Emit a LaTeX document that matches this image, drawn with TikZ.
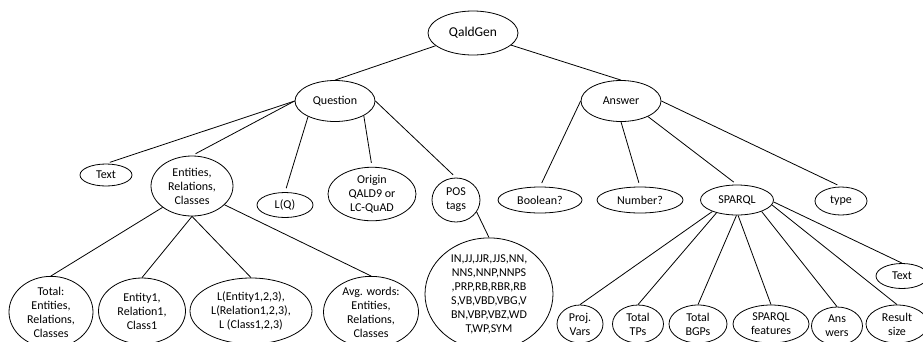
\documentclass[tikz,border=0pt]{standalone}
\usepackage{fontspec}
\setmainfont{Carlito}
\usetikzlibrary{shapes.geometric}
\tikzset{
  ell/.style={ellipse, draw, line width=0.8pt, inner sep=0pt, align=center,
    font=\fontsize{12}{14}\selectfont},
  link/.style={line width=0.8pt},
  gaplink/.style={line width=0.8pt, shorten >=4pt},
}
\begin{document}
\begin{tikzpicture}[x=1pt, y=-1pt]
\useasboundingbox (0,0) rectangle (923,341);
\clip (0,0) rectangle (923,341);
% root level
\node[ell, minimum width=90, minimum height=44, font=\fontsize{13.5}{16}\selectfont] (qg) at (473,33) {QaldGen};
\node[ell, minimum width=80, minimum height=41] (q) at (335,101) {Question};
\node[ell, minimum width=80, minimum height=41] (a) at (621,101) {Answer};
% question children
\node[ell, minimum width=52, minimum height=22] (t1) at (106,175) {Text};
\node[ell, minimum width=82, minimum height=60] (erc) at (192,186) {Entities,\\Relations,\\Classes};
\node[ell, minimum width=56, minimum height=25] (lq) at (285,205) {L(Q)};
\node[ell, minimum width=88, minimum height=52] (orig) at (372,194) {Origin\\QALD9 or\\LC-QuAD};
\node[ell, minimum width=48, minimum height=44] (pos) at (456,200) {POS\\tags};
% answer children
\node[ell, minimum width=84, minimum height=26] (bool) at (540,200) {Boolean?};
\node[ell, minimum width=86, minimum height=26] (num) at (640,200) {Number?};
\node[ell, minimum width=73, minimum height=30] (sp) at (737,200) {SPARQL};
\node[ell, minimum width=52, minimum height=28] (type) at (841,201) {type};
% entity leaves
\node[ell, minimum width=84, minimum height=68] (tot) at (51,312) {Total:\\Entities,\\Relations,\\Classes};
\node[ell, minimum width=87, minimum height=66] (e1) at (142,311) {Entity1,\\Relation1,\\Class1};
\node[ell, minimum width=122, minimum height=66] (le) at (251,311) {L(Entity1,2,3),\\L(Relation1,2,3),\\L (Class1,2,3)};
\node[ell, minimum width=95, minimum height=70] (avg) at (371,312) {Avg. words:\\Entities,\\Relations,\\Classes};
\node[ell, minimum width=128, minimum height=90] (posl) at (489,294) {IN,JJ,JJR,JJS,NN,\\NNS,NNP,NNPS\\,PRP,RB,RBR,RB\\S,VB,VBD,VBG,V\\BN,VBP,VBZ,WD\\T,WP,SYM};
% sparql leaves
\node[ell, minimum width=46, minimum height=38] (pv) at (580,324) {Proj.\\Vars};
\node[ell, minimum width=51, minimum height=38] (tp) at (638,324) {Total\\TPs};
\node[ell, minimum width=58, minimum height=38] (bgp) at (698,324) {Total\\BGPs};
\node[ell, minimum width=76, minimum height=38] (feat) at (771,324) {SPARQL\\features};
\node[ell, minimum width=51, minimum height=38] (ans) at (837,326) {Ans\\wers};
\node[ell, minimum width=62, minimum height=38] (res) at (897,324) {Result\\size};
\node[ell, minimum width=52, minimum height=25] (t2) at (902,276) {Text};
% connectors
\draw[link] (qg) -- (q.north);
\draw[link] (qg) -- (a.north);
\draw[gaplink] (q.west) -- (t1.north);
\draw[gaplink] (q.west) -- (erc.north);
\draw[gaplink] (q.210) -- (lq.north);
\draw[gaplink] (q.333) -- (orig.north);
\draw[gaplink] (q.east) -- (pos.north);
\draw[gaplink] (a.west) -- (bool.north);
\draw[gaplink] (a.south) -- (num.north);
\draw[gaplink] (a.330) -- (sp.north);
\draw[gaplink] (a.east) -- (type.north);
\draw[link] (erc.216) -- (tot.north);
\draw[link] (erc.south) -- (e1.north);
\draw[link] (erc.south) -- (le.north);
\draw[link] (erc.330) -- (avg.north);
\draw[link] (pos.330) -- (posl.north);
\draw[link] (sp.205) -- (pv.north);
\draw[link] (sp.212) -- (tp.north);
\draw[link] (sp.268) -- (bgp.north);
\draw[link] (sp.274) -- (feat.north);
\draw[link] (sp.335) -- (ans.north);
\draw[link] (sp.352) -- (res.north);
\draw[link] (sp.357) -- (t2.north);
\end{tikzpicture}
\end{document}
